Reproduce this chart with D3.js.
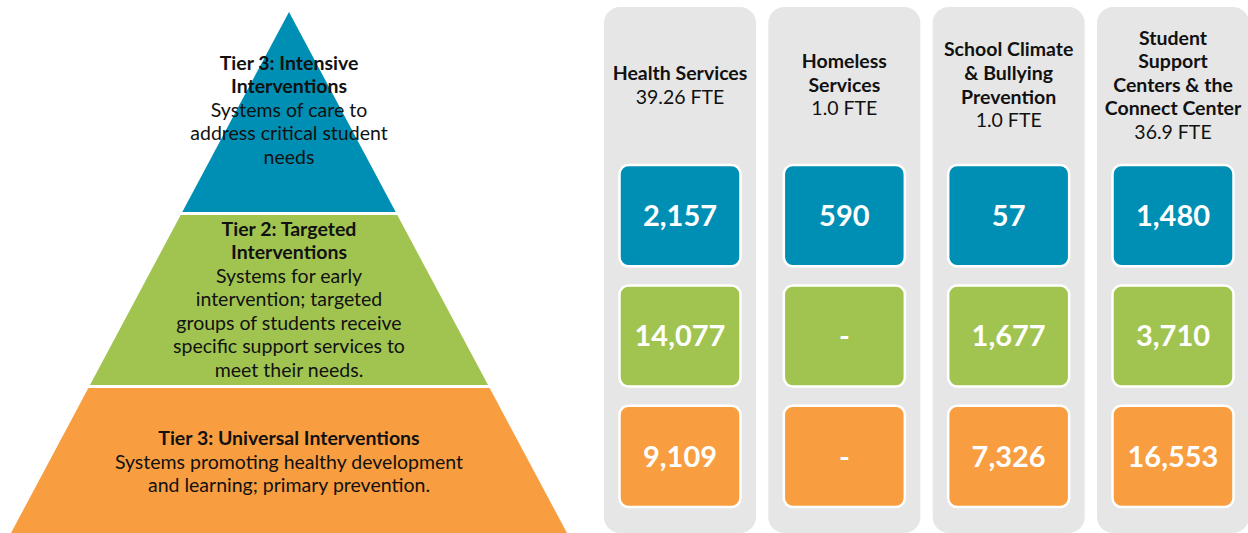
<!DOCTYPE html>
<html>
<head>
<meta charset="utf-8">
<script src="https://cdn.jsdelivr.net/npm/d3@7"></script>
<style>
  body { margin: 0; background: #fff; }
  svg { display: block; font-family: Lato, "Open Sans", sans-serif; }
</style>
</head>
<body>
<svg width="1248" height="533"></svg>
<script>
// tiers, top to bottom
const tierNames = ['Tier 3: Intensive Interventions', 'Tier 2: Targeted Interventions', 'Tier 3: Universal Interventions'];
const tierTitleLines = [
  ['Tier 3: Intensive', 'Interventions'],
  ['Tier 2: Targeted', 'Interventions'],
  ['Tier 3: Universal Interventions']
];
const tierDescLines = [
  ['Systems of care to', 'address critical student', 'needs'],
  ['Systems for early', 'intervention; targeted', 'groups of students receive', 'specific support services to', 'meet their needs.'],
  ['Systems promoting healthy development', 'and learning; primary prevention.']
];
const tierColors = ['#008fb4', '#a1c451', '#f99d41'];

// service columns
const services = ['Health Services', 'Homeless Services', 'School Climate & Bullying Prevention', 'Student Support Centers & the Connect Center'];
const serviceLines = [
  ['Health Services'],
  ['Homeless', 'Services'],
  ['School Climate', '& Bullying', 'Prevention'],
  ['Student', 'Support', 'Centers & the', 'Connect Center']
];
const fte = ['39.26 FTE', '1.0 FTE', '1.0 FTE', '36.9 FTE'];

// students served per tier (null = none)
const intensive = [2157, 590, 57, 1480];
const targeted = [14077, null, 1677, 3710];
const universal = [9109, null, 7326, 16553];

const svg = d3.select('svg');
const fmt = d3.format(',d');

// ---------- pyramid ----------
const apexX = 289, apexY = 12, baseY = 533;
const halfW = d3.scaleLinear().domain([apexY, baseY]).range([0, 278]);
// band edges (top, bottom) for each tier
const bands = [[apexY, 212], [215, 385], [388, baseY]];
const lineH = 23.5;

const tiers = tierNames.map((name, i) => ({
  name, color: tierColors[i], top: bands[i][0], bottom: bands[i][1],
  lines: tierTitleLines[i].map(t => ({ t, bold: true })).concat(tierDescLines[i].map(t => ({ t, bold: false })))
}));

const tierG = svg.append('g').selectAll('g').data(tiers).join('g');

tierG.append('path')
  .attr('fill', d => d.color)
  .attr('d', d => {
    const pts = [
      [apexX - halfW(d.top), d.top], [apexX + halfW(d.top), d.top],
      [apexX + halfW(d.bottom), d.bottom], [apexX - halfW(d.bottom), d.bottom]
    ];
    return d3.line()(pts) + 'Z';
  });

const textCenters = [110, 299.5, 462];
tierG.append('text')
  .attr('text-anchor', 'middle')
  .attr('fill', '#111')
  .style('font-size', '19.5px')
  .selectAll('tspan')
  .data((d, i) => d.lines.map((l, j) => ({ ...l, y: textCenters[i] + (j - (d.lines.length - 1) / 2) * lineH })))
  .join('tspan')
  .attr('x', apexX)
  .attr('y', d => d.y)
  .attr('dy', '0.35em')
  .attr('font-weight', d => d.bold ? 700 : 400)
  .text(d => d.t);

// ---------- service columns ----------
const x = d3.scaleBand().domain(services).range([604, 1249]).paddingInner(0.075).paddingOuter(0);
const rows = [intensive, targeted, universal];
const rowY = d3.scaleBand().domain(d3.range(3)).range([165, 507]).paddingInner(0.16);

const col = svg.append('g').selectAll('g').data(services).join('g')
  .attr('transform', d => `translate(${x(d)},0)`);

col.append('rect')
  .attr('y', 7).attr('width', x.bandwidth()).attr('height', 526)
  .attr('rx', 16).attr('fill', '#e6e6e6');

col.append('text')
  .attr('text-anchor', 'middle')
  .attr('fill', '#111')
  .style('font-size', '19.5px')
  .selectAll('tspan')
  .data((d, i) => {
    const ls = serviceLines[i].map(t => ({ t, bold: true })).concat([{ t: fte[i], bold: false }]);
    return ls.map((l, j) => ({ ...l, y: 85 + (j - (ls.length - 1) / 2) * 23.6 }));
  })
  .join('tspan')
  .attr('x', x.bandwidth() / 2)
  .attr('y', d => d.y)
  .attr('dy', '0.35em')
  .attr('font-weight', d => d.bold ? 700 : 400)
  .text(d => d.t);

const boxW = 121;
const cell = col.selectAll('g.cell')
  .data((d, i) => rows.map((r, k) => ({ v: r[i], k })))
  .join('g').attr('class', 'cell')
  .attr('transform', d => `translate(${(x.bandwidth() - boxW) / 2},${rowY(d.k)})`);

cell.append('rect')
  .attr('width', boxW).attr('height', rowY.bandwidth())
  .attr('rx', 9)
  .attr('fill', d => tierColors[d.k])
  .attr('stroke', '#fff').attr('stroke-width', 2.5);

cell.append('text')
  .attr('x', boxW / 2).attr('y', rowY.bandwidth() / 2)
  .attr('dy', '0.36em')
  .attr('text-anchor', 'middle')
  .attr('fill', '#fff')
  .attr('font-weight', 700)
  .style('font-size', '29px')
  .text(d => d.v == null ? '-' : fmt(d.v));
</script>
</body>
</html>
